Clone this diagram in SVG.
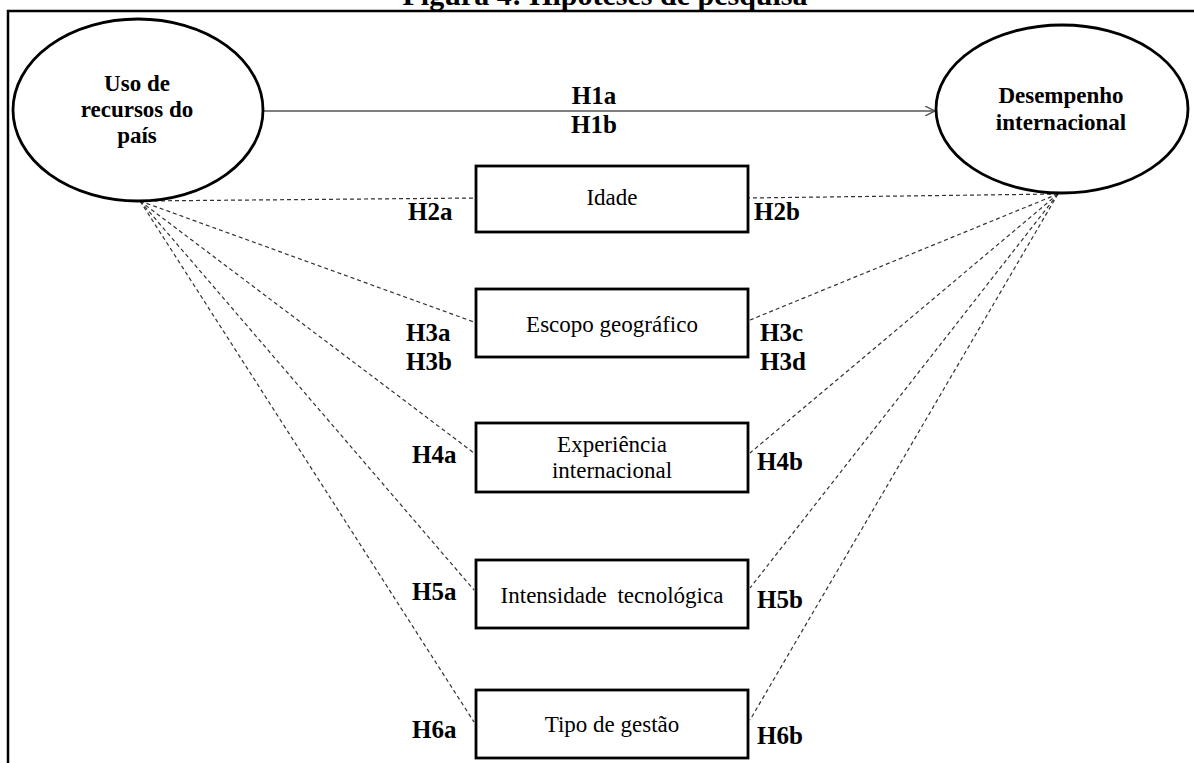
<svg xmlns="http://www.w3.org/2000/svg" width="1194" height="763" viewBox="0 0 1194 763">
<defs>
<style>
.frame{fill:none;stroke:#000;stroke-width:2.5}
.ell{fill:#fff;stroke:#000;stroke-width:2.8}
.box{fill:#fff;stroke:#000;stroke-width:2.8}
.dash{fill:none;stroke:#333;stroke-width:1.2;stroke-dasharray:4 3}
.solid{fill:none;stroke:#555;stroke-width:1.4}
.bt{font-family:"Liberation Serif","Times New Roman",serif;font-weight:bold;font-size:23px;fill:#000;text-anchor:middle}
.nt{font-family:"Liberation Serif","Times New Roman",serif;font-size:23px;fill:#000;text-anchor:middle}
.hl{font-family:"Liberation Serif","Times New Roman",serif;font-weight:bold;font-size:25px;fill:#000}
.title{font-family:"Liberation Serif","Times New Roman",serif;font-weight:bold;font-size:30px;fill:#000;text-anchor:middle}
</style>
<marker id="arr" viewBox="0 0 10 10" refX="10" refY="5" markerWidth="10" markerHeight="10" markerUnits="userSpaceOnUse" orient="auto">
<path d="M0 0 L10 5 L0 10" fill="none" stroke="#555" stroke-width="1.4"/>
</marker>
</defs>
<rect width="1194" height="763" fill="#fff"/>
<text class="title" x="605" y="5">Figura 4: Hipóteses de pesquisa</text>
<path class="frame" d="M8 763 V11 H1194"/>

<g id="connectors">
<line class="solid" x1="263" y1="111" x2="935" y2="111" marker-end="url(#arr)"/>
<line class="dash" x1="140" y1="201" x2="476" y2="198"/>
<line class="dash" x1="1058" y1="194" x2="748" y2="198"/>
<line class="dash" x1="140" y1="201" x2="474" y2="322"/>
<line class="dash" x1="1058" y1="194" x2="750" y2="320"/>
<line class="dash" x1="140" y1="201" x2="474" y2="453"/>
<line class="dash" x1="1058" y1="194" x2="750" y2="453"/>
<line class="dash" x1="140" y1="201" x2="474" y2="590"/>
<line class="dash" x1="1058" y1="194" x2="750" y2="588"/>
<line class="dash" x1="140" y1="201" x2="474" y2="722"/>
<line class="dash" x1="1058" y1="194" x2="750" y2="720"/>
</g>

<g id="labels">
<text class="hl" x="594" y="104" text-anchor="middle">H1a</text>
<text class="hl" x="594" y="133" text-anchor="middle">H1b</text>
<text class="hl" x="408" y="220">H2a</text>
<text class="hl" x="754" y="220">H2b</text>
<text class="hl" x="406" y="341">H3a</text>
<text class="hl" x="406" y="370">H3b</text>
<text class="hl" x="760" y="341">H3c</text>
<text class="hl" x="760" y="370">H3d</text>
<text class="hl" x="412" y="463">H4a</text>
<text class="hl" x="757" y="470">H4b</text>
<text class="hl" x="412" y="600">H5a</text>
<text class="hl" x="757" y="608">H5b</text>
<text class="hl" x="412" y="738">H6a</text>
<text class="hl" x="757" y="744">H6b</text>
</g>

<g id="uso">
<ellipse class="ell" cx="138" cy="110" rx="125" ry="91"/>
<text class="bt" x="137" y="91">Uso de</text>
<text class="bt" x="137" y="117">recursos do</text>
<text class="bt" x="137" y="143">país</text>
</g>

<g id="desempenho">
<ellipse class="ell" cx="1062" cy="109" rx="126" ry="84"/>
<text class="bt" x="1061" y="103">Desempenho</text>
<text class="bt" x="1061" y="130">internacional</text>
</g>

<g id="idade">
<rect class="box" x="476" y="166" width="272" height="66"/>
<text class="nt" x="612" y="205">Idade</text>
</g>

<g id="escopo">
<rect class="box" x="476" y="289" width="272" height="68"/>
<text class="nt" x="612" y="332">Escopo geográfico</text>
</g>

<g id="experiencia">
<rect class="box" x="476" y="423" width="272" height="69"/>
<text class="nt" x="612" y="452">Experiência</text>
<text class="nt" x="612" y="478">internacional</text>
</g>

<g id="intensidade">
<rect class="box" x="476" y="560" width="272" height="68"/>
<text class="nt" x="612" y="603" word-spacing="5">Intensidade tecnológica</text>
</g>

<g id="tipo">
<rect class="box" x="476" y="690" width="272" height="68"/>
<text class="nt" x="612" y="732">Tipo de gestão</text>
</g>
</svg>
